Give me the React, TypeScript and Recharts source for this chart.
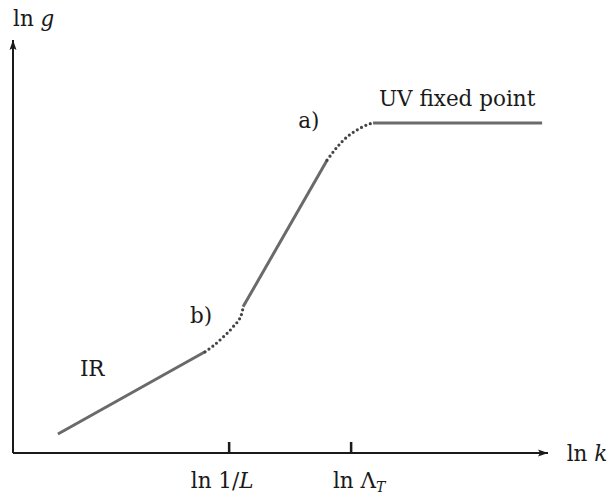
import { LineChart, Line, XAxis, YAxis, ReferenceDot } from 'recharts';

// chart units: ln k runs 0..100 along the axis, ln g runs 0..100 up the axis
const irLine = [
  { x: 8.4, y: 4.6 },
  { x: 35.9, y: 24.5 },
];
const crossoverB = [
  { x: 35.9, y: 24.5 },
  { x: 37.4, y: 25.9 },
  { x: 39.3, y: 28.1 },
  { x: 41.1, y: 30.5 },
  { x: 42.8, y: 33.9 },
  { x: 43.0, y: 35.4 },
];
const steepLine = [
  { x: 43.0, y: 35.4 },
  { x: 58.7, y: 70.9 },
];
const crossoverA = [
  { x: 58.7, y: 70.9 },
  { x: 60.6, y: 74.1 },
  { x: 62.4, y: 76.5 },
  { x: 64.3, y: 78.2 },
  { x: 66.7, y: 79.7 },
  { x: 67.3, y: 79.9 },
];
const uvLine = [
  { x: 67.3, y: 79.9 },
  { x: 98.9, y: 79.9 },
];

const tickValues = [40.4, 63.2];
const tickNames = ['1/L', 'Lambda_T'];

const annotations = [
  { id: 'lng', x: 0, y: 103.4 },
  { id: 'uv', x: 68.4, y: 84.0 },
  { id: 'ir', x: 12.5, y: 18.6 },
  { id: 'b', x: 33.1, y: 31.5 },
  { id: 'a', x: 53.3, y: 78.7 },
  { id: 'lnk', x: 103.5, y: -1.9 },
];

const FONT = '"DejaVu Serif", serif';
const SIZE = 21.5;
const INK = '#1a1a1a';
const CURVE = '#6a6a6a';

const labelText = (id: string, x: number, y: number) => {
  const common = { x, y, fontFamily: FONT, fontSize: SIZE, fill: INK };
  switch (id) {
    case 'lng':
      return (
        <text {...common}>
          ln <tspan fontStyle="italic">g</tspan>
        </text>
      );
    case 'lnk':
      return (
        <text {...common}>
          ln <tspan fontStyle="italic">k</tspan>
        </text>
      );
    case 'uv':
      return <text {...common}>UV fixed point</text>;
    case 'ir':
      return <text {...common}>IR</text>;
    case 'a':
      return <text {...common}>a)</text>;
    case 'b':
      return <text {...common}>b)</text>;
    default:
      return null;
  }
};

const AxisTick = ({ x, y, index }: any) => (
  <g>
    <line x1={x} x2={x} y1={y - 11} y2={y} stroke={INK} strokeWidth={2.5} />
    {tickNames[index] === '1/L' ? (
      <text x={x - 7} y={y + 35} textAnchor="middle" fontFamily={FONT} fontSize={SIZE} fill={INK}>
        ln 1/<tspan fontStyle="italic">L</tspan>
      </text>
    ) : (
      <text x={x + 8} y={y + 35} textAnchor="middle" fontFamily={FONT} fontSize={SIZE} fill={INK}>
        ln Λ<tspan fontStyle="italic" fontSize={14} dy={4}>T</tspan>
      </text>
    )}
  </g>
);

const ArrowRight = ({ cx, cy }: any) => (
  <polygon points={`${cx},${cy} ${cx - 10},${cy - 3.5} ${cx - 8},${cy} ${cx - 10},${cy + 3.5}`} fill={INK} />
);
const ArrowUp = ({ cx, cy }: any) => (
  <polygon points={`${cx},${cy} ${cx - 3.5},${cy + 10} ${cx},${cy + 8} ${cx + 3.5},${cy + 10}`} fill={INK} />
);

export default function App() {
  const solid = { stroke: CURVE, strokeWidth: 3, dot: false, isAnimationActive: false, type: 'linear' as const };
  const dotted = {
    stroke: '#444444',
    strokeWidth: 3.2,
    strokeDasharray: '0 4.8',
    strokeLinecap: 'round' as const,
    dot: false,
    isAnimationActive: false,
    type: 'monotone' as const,
  };
  return (
    <div style={{ position: 'absolute', left: 0, top: 0, background: '#fff' }}>
      <LineChart width={611} height={496} margin={{ top: 40, right: 63, bottom: 0, left: 0 }}>
        <XAxis
          type="number"
          dataKey="x"
          domain={[0, 100]}
          ticks={tickValues}
          height={43}
          tickSize={0}
          tickMargin={0}
          tickLine={false}
          tick={<AxisTick />}
          axisLine={{ stroke: INK, strokeWidth: 2 }}
          allowDataOverflow
        />
        <YAxis
          type="number"
          domain={[0, 100]}
          width={13}
          tick={false}
          tickLine={false}
          axisLine={{ stroke: INK, strokeWidth: 2 }}
          allowDataOverflow
        />
        <Line data={irLine} dataKey="y" {...solid} />
        <Line data={crossoverB} dataKey="y" {...dotted} />
        <Line data={steepLine} dataKey="y" {...solid} />
        <Line data={crossoverA} dataKey="y" {...dotted} />
        <Line data={uvLine} dataKey="y" {...solid} />
        <ReferenceDot x={100} y={0} r={0} ifOverflow="visible" shape={<ArrowRight />} />
        <ReferenceDot x={0} y={100} r={0} ifOverflow="visible" shape={<ArrowUp />} />
        {annotations.map((a) => (
          <ReferenceDot
            key={a.id}
            x={a.x}
            y={a.y}
            r={0}
            ifOverflow="visible"
            shape={(p: any) => labelText(a.id, p.cx, p.cy)}
          />
        ))}
      </LineChart>
    </div>
  );
}
